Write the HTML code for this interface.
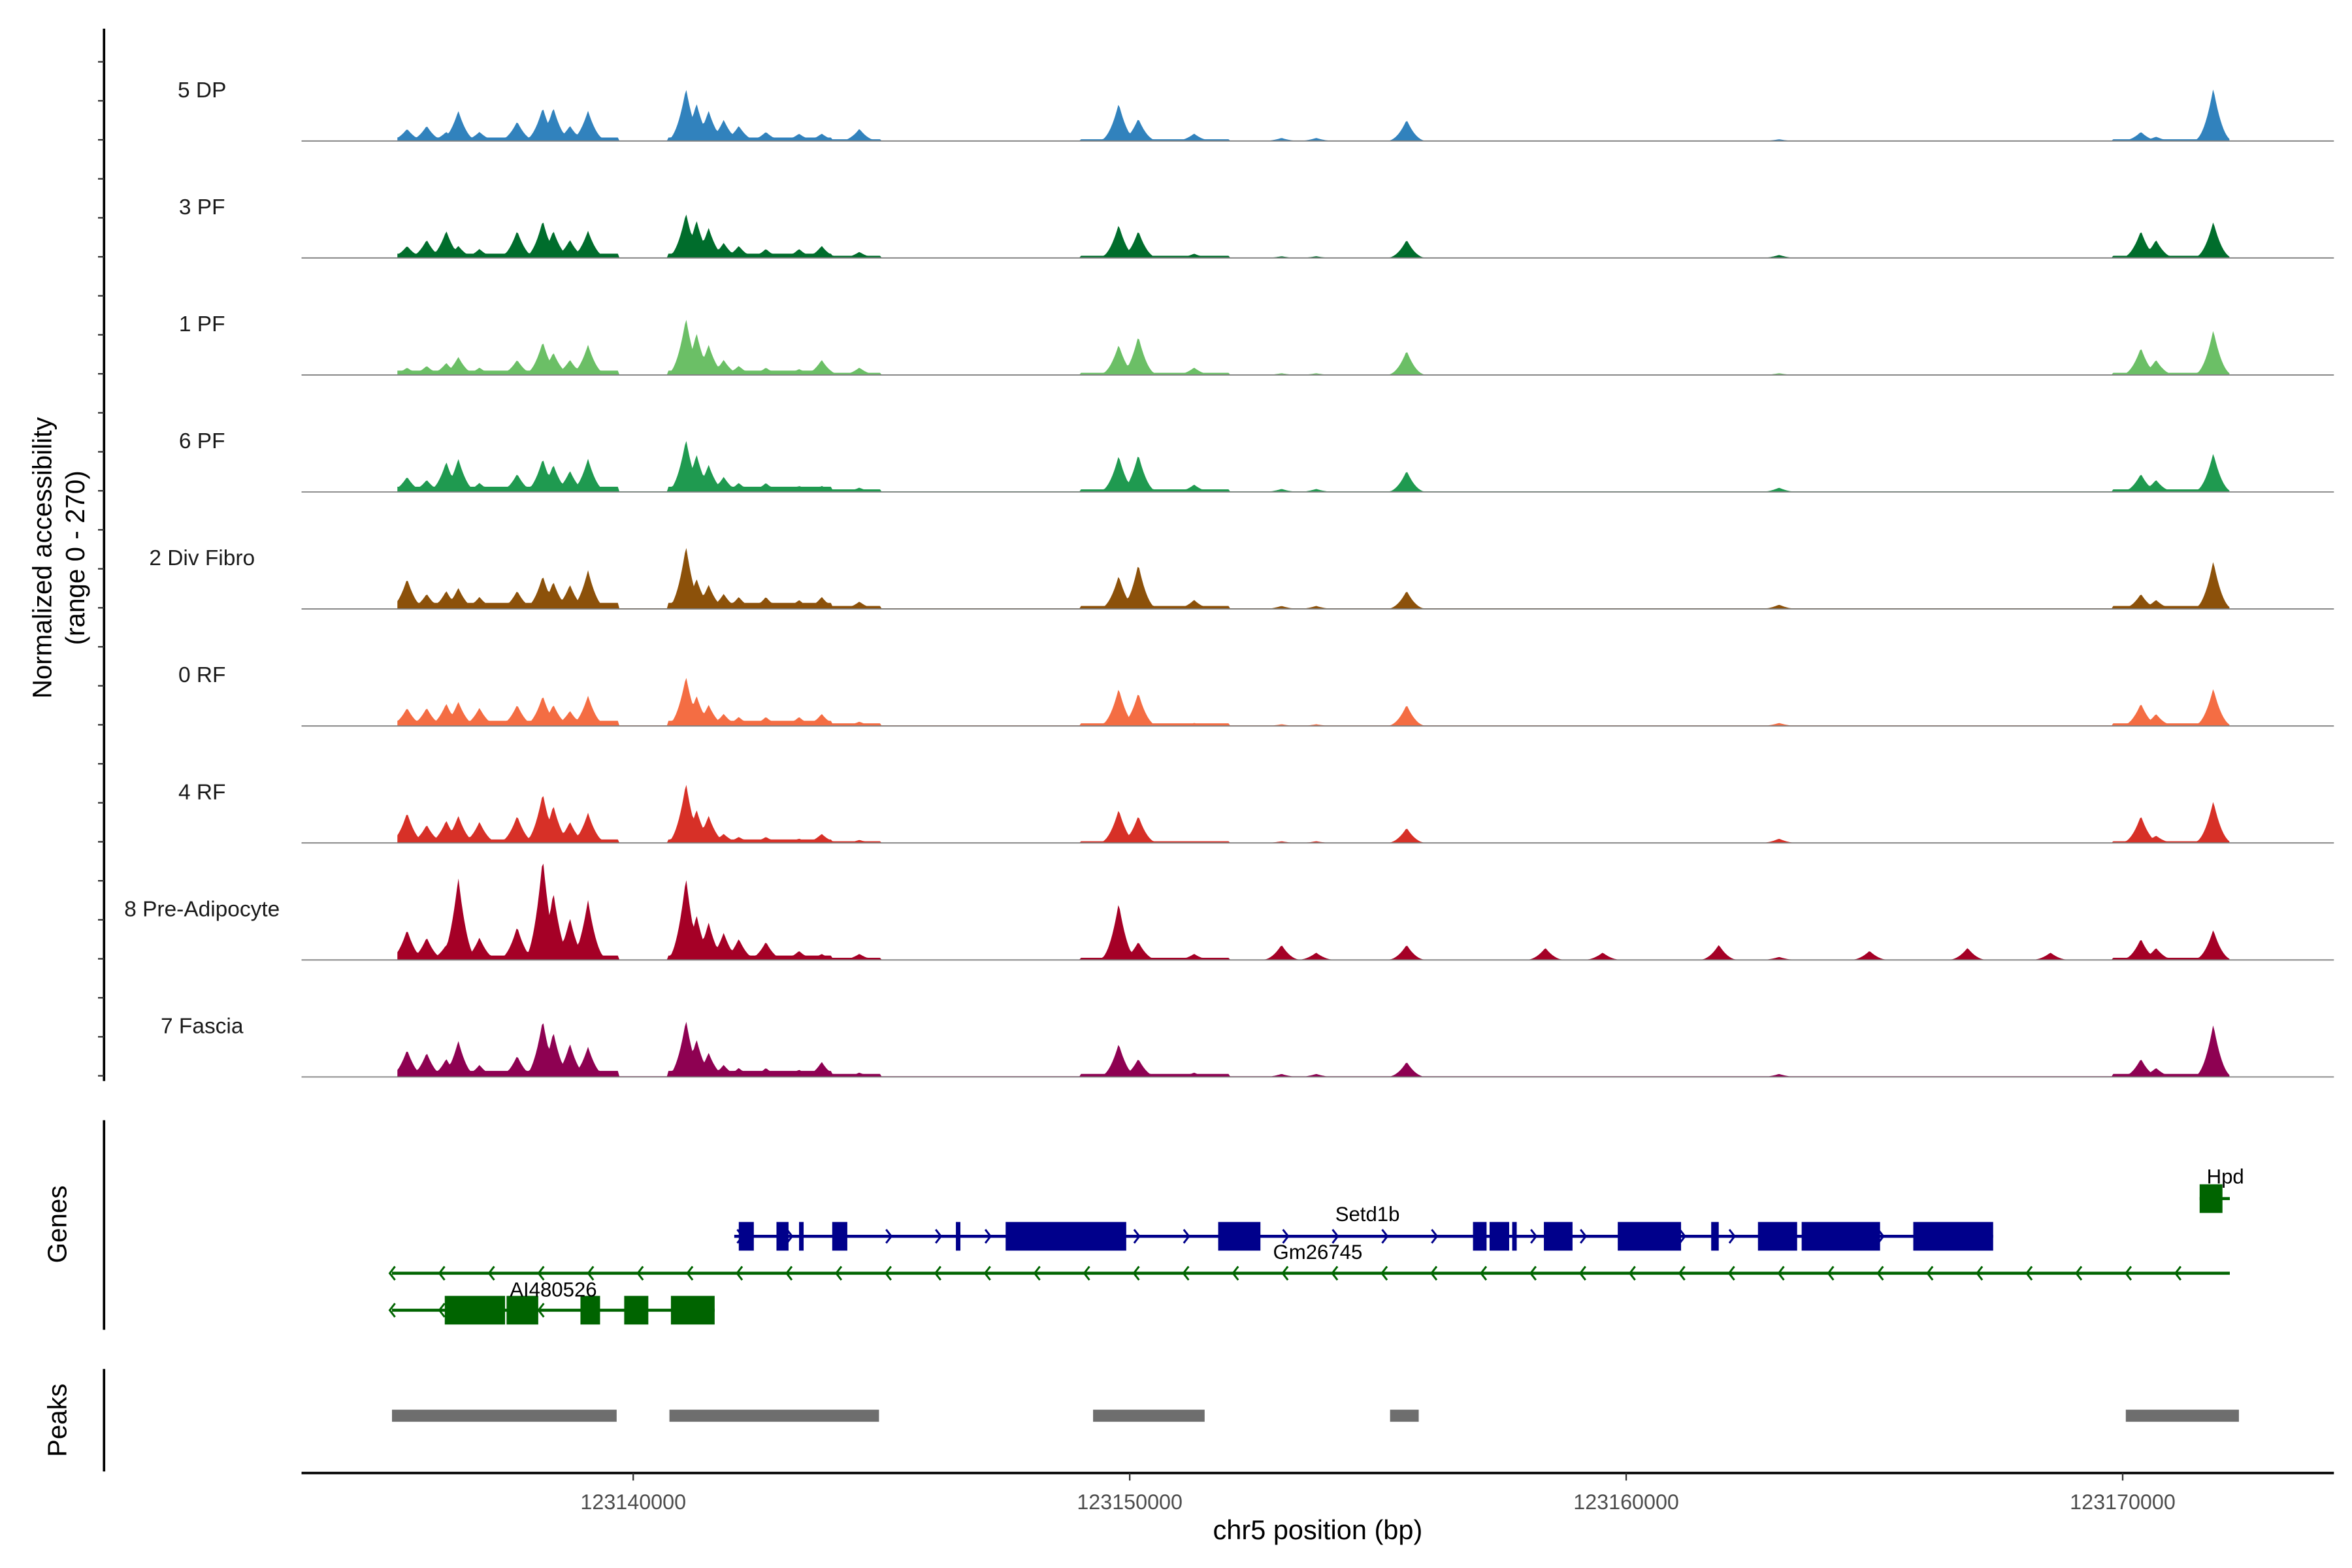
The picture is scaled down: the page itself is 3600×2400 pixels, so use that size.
<!DOCTYPE html>
<html><head><meta charset="utf-8"><style>
html,body{margin:0;padding:0;background:#fff;}
svg{display:block;font-family:"Liberation Sans",Arial,sans-serif;}
</style></head><body>
<svg id="chart" width="3600" height="2400" viewBox="0 0 1560 1040" xmlns="http://www.w3.org/2000/svg">
<g id="tracks"></g>
<g id="genes"></g>
<g id="peaks"></g>
<g id="axes"></g>
</svg>
<script>
// ---- data ----
const trackNames = ["5 DP","3 PF","1 PF","6 PF","2 Div Fibro","0 RF","4 RF","8 Pre-Adipocyte","7 Fascia"];
const trackColors = ["#3182BD","#006D2C","#6BBF66","#1F9A50","#8C510A","#F46D43","#D73027","#A50026","#8E0152"];
const peakPos = [123135445,123135840,123136234,123136477,123136903,123137662,123138178,123138391,123138725,123139089,123141063,123141275,123141518,123141822,123142126,123142672,123143340,123143796,123144555,123149778,123150173,123151297,123153058,123153756,123155578,123163079,123170367,123170671,123171825];
const h5DP   = [28,35,21,70,21,45,77,77,35,70,122,87,70,49,35,21,17,17,28,87,52,17,7,7,49,4,21,10,122];
const h3PF   = [28,42,63,28,21,63,87,63,42,63,104,87,70,35,28,21,21,28,14,77,63,10,4,4,42,7,63,42,84];
const h1PF   = [17,21,28,42,17,35,77,52,35,70,132,97,70,35,21,17,14,35,17,70,90,17,4,4,56,4,63,35,104];
const h6PF   = [35,28,70,77,21,42,77,63,49,77,122,87,63,35,21,21,14,14,10,84,87,17,7,7,49,10,42,28,90];
const hDiv   = [70,35,42,49,28,42,77,63,56,90,146,70,56,35,28,28,21,28,17,77,104,21,7,7,42,10,35,21,111];
const h0RF   = [42,42,52,56,42,49,70,49,35,70,115,70,49,28,21,21,21,28,10,87,77,7,4,4,49,7,52,28,87];
const h4RF   = [70,42,52,63,49,63,115,87,49,70,139,77,63,21,14,14,10,21,7,77,63,4,4,4,35,10,63,17,97];
const hPre   = [70,52,35,191,52,77,237,157,97,139,191,104,87,63,49,42,21,14,14,132,42,14,35,17,35,7,49,28,70];
const hFas   = [63,56,42,84,28,49,132,104,77,70,132,87,56,28,21,21,17,35,10,77,42,10,7,7,35,7,42,21,122];
const trackHeights = [h5DP,h3PF,h1PF,h6PF,hDiv,h0RF,h4RF,hPre,hFas];
// low background coverage in the dense left region, per track
const bgLevel = [8,10,10,12,14,12,8,10,14];
const preExtraPos = [123158372,123159526,123161865,123164901,123166875,123168545];
const preExtraH   = [28,17,35,21,28,17];
const setd1bExons = [[123142126,123142429],[123142885,123143128],[123143340,123143432],[123144008,123144312],[123146499,123146590],[123147501,123149930],[123151782,123152633],[123156914,123157188],[123157248,123157643],[123157704,123157795],[123158342,123158919],[123159830,123161105],[123161712,123161864],[123162654,123163443],[123163534,123165113],[123165782,123167391]];
const ai480526Exons = [[123136204,123137419],[123137449,123138087],[123138937,123139332],[123139818,123140304],[123140759,123141640]];
const peakRegions = [[123135141,123139666],[123140729,123144950],[123149262,123151509],[123155244,123155821],[123170063,123172341]];
const xTicks = [123140000,123150000,123160000,123170000];

// ---- scales ----
const NS="http://www.w3.org/2000/svg";
const x = bp => 420 + (bp-123140000)/1000*32.93;
const trackH = 77.6, yMax = 270;
const base0 = 93.5;
function mk(tag, attrs, parent){const e=document.createElementNS(NS,tag);for(const k in attrs)e.setAttribute(k,attrs[k]);parent.appendChild(e);return e;}
const gT=document.getElementById('tracks'), gG=document.getElementById('genes'), gP=document.getElementById('peaks'), gA=document.getElementById('axes');
const startBp=123135250, endBp=123172150, step=30, hw=420;

trackNames.forEach((name,i)=>{
  const base = base0 + i*trackH;
  const yS = v => base - v/yMax*trackH;
  let pos = peakPos.slice(), hs = trackHeights[i].slice();
  if(i===7){pos=pos.concat(preExtraPos);hs=hs.concat(preExtraH);}
  let d = "M"+x(startBp).toFixed(2)+","+base;
  for(let b=startBp;b<=endBp;b+=step){
    let v=0;
    for(let k=0;k<pos.length;k++){
      const dd=Math.abs(b-pos[k])/hw;
      if(dd<1){const c=hs[k]*Math.pow(1-dd,2.2);if(c>v)v=c;}
    }
    if(b<123145000 && !(b>123139700 && b<123140700)) v=Math.max(v,bgLevel[i]*(b<123144000?1:0.5));
    else if((b>123149000&&b<123152000)||(b>123169800&&b<123172150)) v=Math.max(v,bgLevel[i]*0.5);
    else v=Math.max(v,bgLevel[i]*0.12);
    d+=" L"+x(b).toFixed(2)+","+yS(v).toFixed(2);
  }
  d+=" L"+x(endBp).toFixed(2)+","+base+" Z";
  const p=mk('path',{d:d,fill:trackColors[i]},gT);
  
  
  const l=mk('line',{x1:200,x2:1548,y1:base,y2:base,stroke:'#7f7f7f','stroke-width':0.8},gT);
  
  
  const t=mk('text',{x:134,y:base-29,'text-anchor':'middle','font-size':14.5,fill:'#1a1a1a'},gT);
  t.textContent=name;
  
  
});

// ---- genes ----
function chevrons(x1,x2,y,dir,color,parent){
  for(let xx=x1+2;xx<x2;xx+=32.9){
    const dx = dir>0?3.5:-3.5;
    const c=mk('polyline',{points:(xx)+","+(y-4.5)+" "+(xx+dx)+","+y+" "+(xx)+","+(y+4.5),fill:'none',stroke:color,'stroke-width':1.3},parent);
    
    
  }
}
const blue="#00008B", green="#006400";
let yS1=820;
let ln=mk('line',{x1:x(123142035),x2:x(123167391),y1:yS1,y2:yS1,stroke:blue,'stroke-width':2},gG);


chevrons(x(123142035),x(123167391),yS1,1,blue,gG);
setd1bExons.forEach(e=>{const r=mk('rect',{x:x(e[0]),y:yS1-9.5,width:Math.max(1.5,x(e[1])-x(e[0])),height:19,fill:blue},gG);
  
  });
let yG=844.5;
ln=mk('line',{x1:x(123135141),x2:x(123172158),y1:yG,y2:yG,stroke:green,'stroke-width':2},gG);


chevrons(x(123135141),x(123172158),yG,-1,green,gG);
let yA=869;
ln=mk('line',{x1:x(123135141),x2:x(123141640),y1:yA,y2:yA,stroke:green,'stroke-width':2},gG);


chevrons(x(123135141),x(123141640),yA,-1,green,gG);
ai480526Exons.forEach(e=>{const r=mk('rect',{x:x(e[0]),y:yA-9.5,width:x(e[1])-x(e[0]),height:19,fill:green},gG);
  
  });
let yH=795;
ln=mk('line',{x1:x(123171550),x2:x(123172158),y1:yH,y2:yH,stroke:green,'stroke-width':2},gG);


let r=mk('rect',{x:x(123171550),y:yH-9.5,width:x(123172010)-x(123171550),height:19,fill:green},gG);


[["Setd1b",907,810],["Gm26745",874,835],["AI480526",367,860],["Hpd",1476,785]].forEach(g=>{
  const t=mk('text',{x:g[1],y:g[2],'text-anchor':'middle','font-size':13.5,fill:'#000'},gG);
  t.textContent=g[0];
  
  
});

// ---- peaks ----
peakRegions.forEach(p=>{const rr=mk('rect',{x:x(p[0]),y:935,width:x(p[1])-x(p[0]),height:8,fill:'#6E6E6E'},gP);
  
  });

// ---- axes ----
function L(x1,y1,x2,y2,w,c,name){const e=mk('line',{x1:x1,y1:y1,x2:x2,y2:y2,stroke:c,'stroke-width':w},gA);
  
  }
L(69,19,69,717,1.6,'#000','y-axis-line');
for(let k=0;k<=26;k++){const yy=41+k*trackH/3;L(65,yy,69,yy,1,'#333','y-axis-tick');}
L(69,743,69,882,1.6,'#000','genes-axis-line');
L(69,908,69,976,1.6,'#000','peaks-axis-line');
L(200,977,1548,977,1.6,'#000','x-axis-line');
xTicks.forEach(v=>{L(x(v),977,x(v),982,1,'#333','x-axis-tick');
  const t=mk('text',{x:x(v),y:1001,'text-anchor':'middle','font-size':14,fill:'#4D4D4D'},gA);
  t.textContent=String(v);
  
  });
function T(txt,xx,yy,size,rot,name){const t=mk('text',{x:xx,y:yy,'text-anchor':'middle','font-size':size,fill:'#000'},gA);
  if(rot)t.setAttribute('transform','rotate(-90 '+xx+' '+yy+')');
  t.textContent=txt;
  
  }
T("chr5 position (bp)",874,1021,18,false,'x-axis-title');
T("Normalized accessibility",34,370,17.5,true,'y-axis-title');
T("(range 0 - 270)",56,370,17.5,true,'y-axis-subtitle');
T("Genes",44,812,17.5,true,'genes-axis-title');
T("Peaks",44,942,17.5,true,'peaks-axis-title');
</script>
</body></html>
